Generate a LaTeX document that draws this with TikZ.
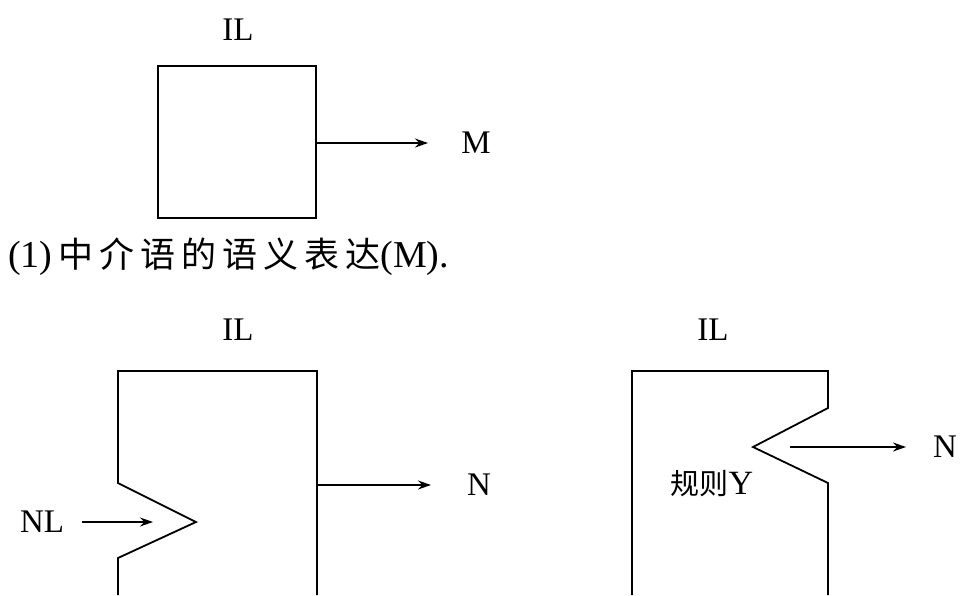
\documentclass[tikz,border=0pt]{standalone}
\usepackage{fontspec}
\setmainfont{Liberation Serif}
\newfontfamily\cjk{Noto Sans CJK SC}
\usetikzlibrary{arrows.meta}
\begin{document}
\begin{tikzpicture}[x=1pt,y=-1pt,
  edge/.style={line width=1.8pt,line join=miter},
  arr/.style={line width=1.5pt,-{Stealth[length=13pt,width=9pt]}},
  lbl/.style={font=\fontsize{33}{33}\selectfont,inner sep=0pt},
  cjklbl/.style={font=\cjk\fontsize{29}{30}\selectfont,inner sep=0pt}]
\useasboundingbox (0,0) rectangle (964,595);
% ---- (1) top box
\node[lbl] (il1) at (238,30) {IL};
\node[draw,edge,minimum width=158pt,minimum height=152pt,inner sep=0pt] (box1) at (237,142) {};
\coordinate (m1) at (box1.east |- 0,143);
\node[lbl] (M) at (476,143) {M};
\coordinate (m1e) at (428,143);
\draw[arr] (m1) -- (m1e);
\node[font=\fontsize{38}{38}\selectfont,anchor=west,inner sep=0pt] (cap) at (8,257)
  {(1)\,{\cjk\fontsize{35}{36}\selectfont\addfontfeature{LetterSpace=17}中介语的语义表达}(M).};
% ---- bottom left
\node[lbl] (il2) at (238,330) {IL};
\draw[edge] (118,595) -- (118,558) -- (196,522) -- (118,483) -- (118,371) -- (317,371) -- (317,595);
\coordinate (n1s) at (317,485);
\coordinate (n1e) at (431,485);
\node[lbl] (N1) at (479,485) {N};
\draw[arr] (n1s) -- (n1e);
\node[lbl] (NL) at (42,522) {NL};
\coordinate (nls) at (82,522);
\coordinate (nle) at (153,522);
\draw[arr] (nls) -- (nle);
% ---- bottom right
\node[lbl] (il3) at (713,330) {IL};
\draw[edge] (632,595) -- (632,371) -- (828,371) -- (828,408) -- (753,447) -- (828,483) -- (828,595);
\coordinate (n2s) at (790,447);
\coordinate (n2e) at (906,447);
\draw[arr] (n2s) -- (n2e);
\node[lbl] (N2) at (945,447) {N};
\node[cjklbl] (rule) at (712,484) {规则{\fontspec{Liberation Serif}\fontsize{34}{34}\selectfont Y}};
\end{tikzpicture}
\end{document}
